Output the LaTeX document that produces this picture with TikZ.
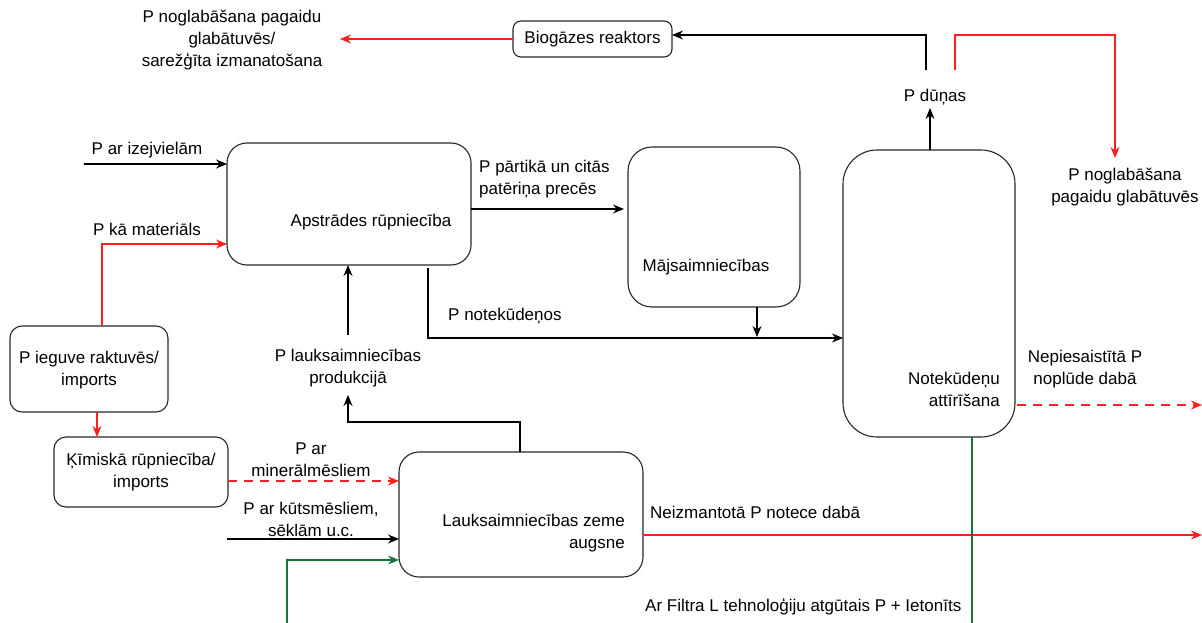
\documentclass[tikz,border=0pt]{standalone}
\usepackage{fontspec}
\setmainfont{Liberation Sans}
\usetikzlibrary{arrows.meta}
\definecolor{dred}{RGB}{255,30,30}
\definecolor{dgreen}{RGB}{20,120,60}
\tikzset{
  box/.style={draw=black!85, line width=1.1pt, rounded corners=#1},
  box/.default=14pt,
  lbl/.style={font=\fontsize{17}{22}\selectfont, align=center, inner sep=0pt},
  arr/.style={line width=1.1pt, -{Stealth[length=11pt,width=9pt]}},
  ln/.style={line width=1.1pt},
}
\begin{document}
\begin{tikzpicture}[x=1pt,y=-1pt]
\useasboundingbox (0,0) rectangle (1202,623);
\clip (0,0) rectangle (1202,623);
% boxes
\draw[box=8pt] (513,21) rectangle (672,57);
\node[lbl] (bio) at (592.5,39) {Biogāzes reaktors};
\coordinate (bioR) at (672,35);
\coordinate (bioL) at (513,39);
\draw[box=20pt] (227,143) rectangle (471,265);
\node[lbl] (apst) at (371,222) {Apstrādes rūpniecība};
\draw[box=12pt] (10,326) rectangle (168,412);
\node[lbl] (ieg) at (89,370) {P ieguve raktuvēs/\\imports};
\draw[box=12pt] (54,437) rectangle (228,507);
\node[lbl] (kim) at (141,472) {Ķīmiskā rūpniecība/\\imports};
\draw[box=20pt] (399,452) rectangle (643,577);
\node[lbl, align=right, anchor=east] (lauks) at (625,533) {Lauksaimniecības zeme\\augsne};
\draw[box=24pt] (628,147) rectangle (800,307);
\node[lbl] (maj) at (706,267) {Mājsaimniecības};
\draw[box=34pt] (843,150) rectangle (1015,437);
\node[lbl, align=right, anchor=east] (not) at (1000,389) {Notekūdeņu\\attīrīšana};
% free texts
\node[lbl] (tstore1) at (232,40) {P noglabāšana pagaidu\\glabātuvēs/\\sarežģīta izmanatošana};
\node[lbl] (duna) at (935,97) {P dūņas};
\node[lbl] (tstore2) at (1125,187) {P noglabāšana\\pagaidu glabātuvēs};
\node[lbl] (tizej) at (147,150) {P ar izejvielām};
\node[lbl] (tmat) at (147,229) {P kā materiāls};
\node[lbl, align=left, anchor=west] (tpart) at (479,179) {P pārtikā un citās\\patēriņa precēs};
\node[lbl, anchor=west] (tnot) at (448,316) {P notekūdeņos};
\node[lbl] (tprod) at (348,368) {P lauksaimniecības\\produkcijā};
\node[lbl] (tmin) at (311,460) {P ar\\minerālmēsliem};
\node[lbl] (tkut) at (311,519) {P ar kūtsmēsliem,\\sēklām u.c.};
\node[lbl] (tnep) at (1085,369) {Nepiesaistītā P\\noplūde dabā};
\node[lbl, anchor=west] (tneiz) at (650,512) {Neizmantotā P notece dabā};
\node[lbl, anchor=west] (tfil) at (645,607) {Ar Filtra L tehnoloģiju atgūtais P + Ietonīts};
% coordinates
\coordinate (izejS) at (84,164);
\coordinate (apstIz) at (227,164);
\coordinate (apstMat) at (227,244);
\coordinate (iegT) at (102,326);
\coordinate (iegB) at (97,412);
\coordinate (kimT) at (97,437);
\coordinate (kimR) at (228,481);
\coordinate (lauMin) at (399,481);
\coordinate (kutS) at (227,539);
\coordinate (lauKut) at (399,539);
\coordinate (grS) at (287,630);
\coordinate (lauGr) at (399,560);
\coordinate (lauT) at (520,452);
\coordinate (prodB) at (348,395);
\coordinate (prodT) at (348,335);
\coordinate (apstB) at (348,265);
\coordinate (apstB2) at (428,268);
\coordinate (notL) at (843,338);
\coordinate (apstR) at (471,209);
\coordinate (majL) at (624,209);
\coordinate (majB) at (757,307);
\coordinate (majJ) at (757,337);
\coordinate (notT) at (930,150);
\coordinate (dunaB) at (930,108);
\coordinate (dunaT1) at (926,70);
\coordinate (dunaT2) at (955,70);
\coordinate (store2T) at (1115,158);
\coordinate (notR) at (1017,405);
\coordinate (edgeR1) at (1202,405);
\coordinate (lauR) at (643,535);
\coordinate (edgeR2) at (1202,535);
\coordinate (notB) at (972,437);
\coordinate (edgeB) at (972,630);
\coordinate (store1R) at (340,39);
% connectors
\draw[arr] (izejS) -- (apstIz);
\draw[arr, dred] (iegT) |- (apstMat);
\draw[arr, dred] (iegB) -- (kimT);
\draw[arr, dred, dashed, dash pattern=on 9pt off 7pt] (kimR) -- (lauMin);
\draw[arr] (kutS) -- (lauKut);
\draw[arr, dgreen] (grS) |- (lauGr);
\draw[arr] (lauT) -- (520,422) -| (prodB);
\draw[arr] (prodT) -- (apstB);
\draw[arr] (apstB2) |- (notL);
\draw[arr] (apstR) -- (majL);
\draw[arr] (majB) -- (majJ);
\draw[arr] (notT) -- (dunaB);
\draw[arr] (dunaT1) |- (bioR);
\draw[arr, dred] (bioL) -- (store1R);
\draw[arr, dred] (dunaT2) |- (1115,35) -- (store2T);
\draw[arr, dred, dashed, dash pattern=on 9pt off 7pt] (notR) -- (edgeR1);
\draw[arr, dred] (lauR) -- (edgeR2);
\draw[ln, dgreen] (notB) -- (edgeB);
\end{tikzpicture}
\end{document}
